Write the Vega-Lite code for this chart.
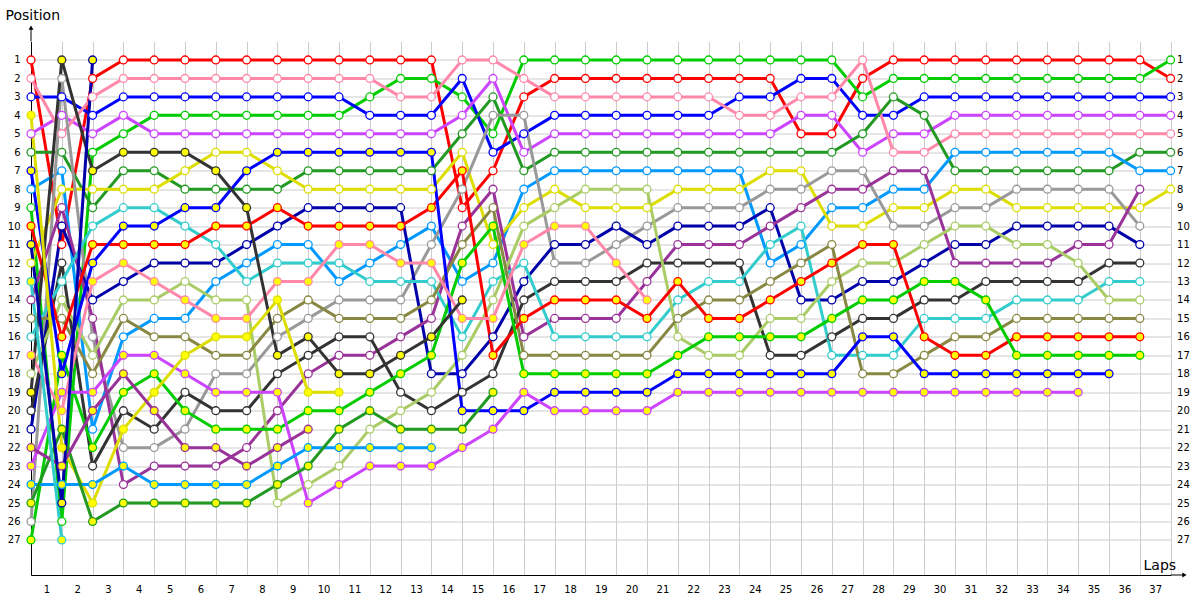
{
"$schema":"https://vega.github.io/schema/vega-lite/v6.json",
"width":1139.6,"height":533.5,
"autosize":{"type":"none"},
"padding":{"left":31,"top":41.5,"right":29.4,"bottom":25},
"background":"white",
"config":{"view":{"stroke":null},"axis":{"labelFont":"DejaVu Sans","labelFontSize":10,"labelColor":"#000","titleFont":"DejaVu Sans","titleFontSize":13,"titleFontWeight":"normal","titleColor":"#000"}},
"datasets":{"arrow":[{"k":1}]},
"data":{"values":[
{"car":"R1","lap":0,"pos":1},{"car":"R1","lap":1,"pos":11},{"car":"R1","lap":2,"pos":2},{"car":"R1","lap":3,"pos":1},{"car":"R1","lap":4,"pos":1},{"car":"R1","lap":5,"pos":1},{"car":"R1","lap":6,"pos":1},{"car":"R1","lap":7,"pos":1},{"car":"R1","lap":8,"pos":1},{"car":"R1","lap":9,"pos":1},{"car":"R1","lap":10,"pos":1},{"car":"R1","lap":11,"pos":1},{"car":"R1","lap":12,"pos":1},{"car":"R1","lap":13,"pos":1},{"car":"R1","lap":14,"pos":9},{"car":"R1","lap":15,"pos":7},{"car":"R1","lap":16,"pos":3},{"car":"R1","lap":17,"pos":2},{"car":"R1","lap":18,"pos":2},{"car":"R1","lap":19,"pos":2},{"car":"R1","lap":20,"pos":2},{"car":"R1","lap":21,"pos":2},{"car":"R1","lap":22,"pos":2},{"car":"R1","lap":23,"pos":2},{"car":"R1","lap":24,"pos":2},{"car":"R1","lap":25,"pos":5},{"car":"R1","lap":26,"pos":5},{"car":"R1","lap":27,"pos":2},{"car":"R1","lap":28,"pos":1},{"car":"R1","lap":29,"pos":1},{"car":"R1","lap":30,"pos":1},{"car":"R1","lap":31,"pos":1},{"car":"R1","lap":32,"pos":1},{"car":"R1","lap":33,"pos":1},{"car":"R1","lap":34,"pos":1},{"car":"R1","lap":35,"pos":1},{"car":"R1","lap":36,"pos":1},{"car":"R1","lap":37,"pos":2},
{"car":"G1","lap":0,"pos":9},{"car":"G1","lap":1,"pos":26},{"car":"G1","lap":2,"pos":6},{"car":"G1","lap":3,"pos":5},{"car":"G1","lap":4,"pos":4},{"car":"G1","lap":5,"pos":4},{"car":"G1","lap":6,"pos":4},{"car":"G1","lap":7,"pos":4},{"car":"G1","lap":8,"pos":4},{"car":"G1","lap":9,"pos":4},{"car":"G1","lap":10,"pos":4},{"car":"G1","lap":11,"pos":3},{"car":"G1","lap":12,"pos":2},{"car":"G1","lap":13,"pos":2},{"car":"G1","lap":14,"pos":3},{"car":"G1","lap":15,"pos":5},{"car":"G1","lap":16,"pos":1},{"car":"G1","lap":17,"pos":1},{"car":"G1","lap":18,"pos":1},{"car":"G1","lap":19,"pos":1},{"car":"G1","lap":20,"pos":1},{"car":"G1","lap":21,"pos":1},{"car":"G1","lap":22,"pos":1},{"car":"G1","lap":23,"pos":1},{"car":"G1","lap":24,"pos":1},{"car":"G1","lap":25,"pos":1},{"car":"G1","lap":26,"pos":1},{"car":"G1","lap":27,"pos":3},{"car":"G1","lap":28,"pos":2},{"car":"G1","lap":29,"pos":2},{"car":"G1","lap":30,"pos":2},{"car":"G1","lap":31,"pos":2},{"car":"G1","lap":32,"pos":2},{"car":"G1","lap":33,"pos":2},{"car":"G1","lap":34,"pos":2},{"car":"G1","lap":35,"pos":2},{"car":"G1","lap":36,"pos":2},{"car":"G1","lap":37,"pos":1},
{"car":"B1","lap":0,"pos":3},{"car":"B1","lap":1,"pos":3},{"car":"B1","lap":2,"pos":4},{"car":"B1","lap":3,"pos":3},{"car":"B1","lap":4,"pos":3},{"car":"B1","lap":5,"pos":3},{"car":"B1","lap":6,"pos":3},{"car":"B1","lap":7,"pos":3},{"car":"B1","lap":8,"pos":3},{"car":"B1","lap":9,"pos":3},{"car":"B1","lap":10,"pos":3},{"car":"B1","lap":11,"pos":4},{"car":"B1","lap":12,"pos":4},{"car":"B1","lap":13,"pos":4},{"car":"B1","lap":14,"pos":2},{"car":"B1","lap":15,"pos":6},{"car":"B1","lap":16,"pos":5},{"car":"B1","lap":17,"pos":4},{"car":"B1","lap":18,"pos":4},{"car":"B1","lap":19,"pos":4},{"car":"B1","lap":20,"pos":4},{"car":"B1","lap":21,"pos":4},{"car":"B1","lap":22,"pos":4},{"car":"B1","lap":23,"pos":3},{"car":"B1","lap":24,"pos":3},{"car":"B1","lap":25,"pos":2},{"car":"B1","lap":26,"pos":2},{"car":"B1","lap":27,"pos":4},{"car":"B1","lap":28,"pos":4},{"car":"B1","lap":29,"pos":3},{"car":"B1","lap":30,"pos":3},{"car":"B1","lap":31,"pos":3},{"car":"B1","lap":32,"pos":3},{"car":"B1","lap":33,"pos":3},{"car":"B1","lap":34,"pos":3},{"car":"B1","lap":35,"pos":3},{"car":"B1","lap":36,"pos":3},{"car":"B1","lap":37,"pos":3},
{"car":"V1","lap":0,"pos":5},{"car":"V1","lap":1,"pos":4},{"car":"V1","lap":2,"pos":5},{"car":"V1","lap":3,"pos":4},{"car":"V1","lap":4,"pos":5},{"car":"V1","lap":5,"pos":5},{"car":"V1","lap":6,"pos":5},{"car":"V1","lap":7,"pos":5},{"car":"V1","lap":8,"pos":5},{"car":"V1","lap":9,"pos":5},{"car":"V1","lap":10,"pos":5},{"car":"V1","lap":11,"pos":5},{"car":"V1","lap":12,"pos":5},{"car":"V1","lap":13,"pos":5},{"car":"V1","lap":14,"pos":4},{"car":"V1","lap":15,"pos":2},{"car":"V1","lap":16,"pos":6},{"car":"V1","lap":17,"pos":5},{"car":"V1","lap":18,"pos":5},{"car":"V1","lap":19,"pos":5},{"car":"V1","lap":20,"pos":5},{"car":"V1","lap":21,"pos":5},{"car":"V1","lap":22,"pos":5},{"car":"V1","lap":23,"pos":5},{"car":"V1","lap":24,"pos":5},{"car":"V1","lap":25,"pos":4},{"car":"V1","lap":26,"pos":4},{"car":"V1","lap":27,"pos":6},{"car":"V1","lap":28,"pos":5},{"car":"V1","lap":29,"pos":5},{"car":"V1","lap":30,"pos":4},{"car":"V1","lap":31,"pos":4},{"car":"V1","lap":32,"pos":4},{"car":"V1","lap":33,"pos":4},{"car":"V1","lap":34,"pos":4},{"car":"V1","lap":35,"pos":4},{"car":"V1","lap":36,"pos":4},{"car":"V1","lap":37,"pos":4},
{"car":"P1","lap":0,"pos":2},{"car":"P1","lap":1,"pos":5},{"car":"P1","lap":2,"pos":3},{"car":"P1","lap":3,"pos":2},{"car":"P1","lap":4,"pos":2},{"car":"P1","lap":5,"pos":2},{"car":"P1","lap":6,"pos":2},{"car":"P1","lap":7,"pos":2},{"car":"P1","lap":8,"pos":2},{"car":"P1","lap":9,"pos":2},{"car":"P1","lap":10,"pos":2},{"car":"P1","lap":11,"pos":2},{"car":"P1","lap":12,"pos":3},{"car":"P1","lap":13,"pos":3},{"car":"P1","lap":14,"pos":1},{"car":"P1","lap":15,"pos":1},{"car":"P1","lap":16,"pos":2},{"car":"P1","lap":17,"pos":3},{"car":"P1","lap":18,"pos":3},{"car":"P1","lap":19,"pos":3},{"car":"P1","lap":20,"pos":3},{"car":"P1","lap":21,"pos":3},{"car":"P1","lap":22,"pos":3},{"car":"P1","lap":23,"pos":4},{"car":"P1","lap":24,"pos":4},{"car":"P1","lap":25,"pos":3},{"car":"P1","lap":26,"pos":3},{"car":"P1","lap":27,"pos":1},{"car":"P1","lap":28,"pos":6},{"car":"P1","lap":29,"pos":6},{"car":"P1","lap":30,"pos":5},{"car":"P1","lap":31,"pos":5},{"car":"P1","lap":32,"pos":5},{"car":"P1","lap":33,"pos":5},{"car":"P1","lap":34,"pos":5},{"car":"P1","lap":35,"pos":5},{"car":"P1","lap":36,"pos":5},{"car":"P1","lap":37,"pos":5},
{"car":"DG1","lap":0,"pos":6},{"car":"DG1","lap":1,"pos":6},{"car":"DG1","lap":2,"pos":9},{"car":"DG1","lap":3,"pos":7},{"car":"DG1","lap":4,"pos":7},{"car":"DG1","lap":5,"pos":8},{"car":"DG1","lap":6,"pos":8},{"car":"DG1","lap":7,"pos":8},{"car":"DG1","lap":8,"pos":8},{"car":"DG1","lap":9,"pos":7},{"car":"DG1","lap":10,"pos":7},{"car":"DG1","lap":11,"pos":7},{"car":"DG1","lap":12,"pos":7},{"car":"DG1","lap":13,"pos":7},{"car":"DG1","lap":14,"pos":5},{"car":"DG1","lap":15,"pos":3},{"car":"DG1","lap":16,"pos":7},{"car":"DG1","lap":17,"pos":6},{"car":"DG1","lap":18,"pos":6},{"car":"DG1","lap":19,"pos":6},{"car":"DG1","lap":20,"pos":6},{"car":"DG1","lap":21,"pos":6},{"car":"DG1","lap":22,"pos":6},{"car":"DG1","lap":23,"pos":6},{"car":"DG1","lap":24,"pos":6},{"car":"DG1","lap":25,"pos":6},{"car":"DG1","lap":26,"pos":6},{"car":"DG1","lap":27,"pos":5},{"car":"DG1","lap":28,"pos":3},{"car":"DG1","lap":29,"pos":4},{"car":"DG1","lap":30,"pos":7},{"car":"DG1","lap":31,"pos":7},{"car":"DG1","lap":32,"pos":7},{"car":"DG1","lap":33,"pos":7},{"car":"DG1","lap":34,"pos":7},{"car":"DG1","lap":35,"pos":7},{"car":"DG1","lap":36,"pos":6},{"car":"DG1","lap":37,"pos":6},
{"car":"LB1","lap":0,"pos":8},{"car":"LB1","lap":1,"pos":7},{"car":"LB1","lap":2,"pos":21},{"car":"LB1","lap":3,"pos":16},{"car":"LB1","lap":4,"pos":15},{"car":"LB1","lap":5,"pos":15},{"car":"LB1","lap":6,"pos":13},{"car":"LB1","lap":7,"pos":12},{"car":"LB1","lap":8,"pos":11},{"car":"LB1","lap":9,"pos":11},{"car":"LB1","lap":10,"pos":13},{"car":"LB1","lap":11,"pos":12},{"car":"LB1","lap":12,"pos":11},{"car":"LB1","lap":13,"pos":10},{"car":"LB1","lap":14,"pos":13},{"car":"LB1","lap":15,"pos":12},{"car":"LB1","lap":16,"pos":8},{"car":"LB1","lap":17,"pos":7},{"car":"LB1","lap":18,"pos":7},{"car":"LB1","lap":19,"pos":7},{"car":"LB1","lap":20,"pos":7},{"car":"LB1","lap":21,"pos":7},{"car":"LB1","lap":22,"pos":7},{"car":"LB1","lap":23,"pos":7},{"car":"LB1","lap":24,"pos":12},{"car":"LB1","lap":25,"pos":11},{"car":"LB1","lap":26,"pos":9},{"car":"LB1","lap":27,"pos":9},{"car":"LB1","lap":28,"pos":8},{"car":"LB1","lap":29,"pos":8},{"car":"LB1","lap":30,"pos":6},{"car":"LB1","lap":31,"pos":6},{"car":"LB1","lap":32,"pos":6},{"car":"LB1","lap":33,"pos":6},{"car":"LB1","lap":34,"pos":6},{"car":"LB1","lap":35,"pos":6},{"car":"LB1","lap":36,"pos":7},{"car":"LB1","lap":37,"pos":7},
{"car":"Y1","lap":0,"pos":12},{"car":"Y1","lap":1,"pos":8},{"car":"Y1","lap":2,"pos":8},{"car":"Y1","lap":3,"pos":8},{"car":"Y1","lap":4,"pos":8},{"car":"Y1","lap":5,"pos":7},{"car":"Y1","lap":6,"pos":6},{"car":"Y1","lap":7,"pos":6},{"car":"Y1","lap":8,"pos":7},{"car":"Y1","lap":9,"pos":8},{"car":"Y1","lap":10,"pos":8},{"car":"Y1","lap":11,"pos":8},{"car":"Y1","lap":12,"pos":8},{"car":"Y1","lap":13,"pos":8},{"car":"Y1","lap":14,"pos":6},{"car":"Y1","lap":15,"pos":11},{"car":"Y1","lap":16,"pos":9},{"car":"Y1","lap":17,"pos":8},{"car":"Y1","lap":18,"pos":9},{"car":"Y1","lap":19,"pos":9},{"car":"Y1","lap":20,"pos":9},{"car":"Y1","lap":21,"pos":8},{"car":"Y1","lap":22,"pos":8},{"car":"Y1","lap":23,"pos":8},{"car":"Y1","lap":24,"pos":7},{"car":"Y1","lap":25,"pos":7},{"car":"Y1","lap":26,"pos":10},{"car":"Y1","lap":27,"pos":10},{"car":"Y1","lap":28,"pos":9},{"car":"Y1","lap":29,"pos":9},{"car":"Y1","lap":30,"pos":8},{"car":"Y1","lap":31,"pos":8},{"car":"Y1","lap":32,"pos":9},{"car":"Y1","lap":33,"pos":9},{"car":"Y1","lap":34,"pos":9},{"car":"Y1","lap":35,"pos":9},{"car":"Y1","lap":36,"pos":9},{"car":"Y1","lap":37,"pos":8},
{"car":"GR1","lap":0,"pos":26},{"car":"GR1","lap":1,"pos":2},{"car":"GR1","lap":2,"pos":16},{"car":"GR1","lap":3,"pos":22},{"car":"GR1","lap":4,"pos":22},{"car":"GR1","lap":5,"pos":21},{"car":"GR1","lap":6,"pos":18},{"car":"GR1","lap":7,"pos":18},{"car":"GR1","lap":8,"pos":16},{"car":"GR1","lap":9,"pos":15},{"car":"GR1","lap":10,"pos":14},{"car":"GR1","lap":11,"pos":14},{"car":"GR1","lap":12,"pos":14},{"car":"GR1","lap":13,"pos":11},{"car":"GR1","lap":14,"pos":8},{"car":"GR1","lap":15,"pos":4},{"car":"GR1","lap":16,"pos":4},{"car":"GR1","lap":17,"pos":12},{"car":"GR1","lap":18,"pos":12},{"car":"GR1","lap":19,"pos":11},{"car":"GR1","lap":20,"pos":10},{"car":"GR1","lap":21,"pos":9},{"car":"GR1","lap":22,"pos":9},{"car":"GR1","lap":23,"pos":9},{"car":"GR1","lap":24,"pos":8},{"car":"GR1","lap":25,"pos":8},{"car":"GR1","lap":26,"pos":7},{"car":"GR1","lap":27,"pos":7},{"car":"GR1","lap":28,"pos":10},{"car":"GR1","lap":29,"pos":10},{"car":"GR1","lap":30,"pos":9},{"car":"GR1","lap":31,"pos":9},{"car":"GR1","lap":32,"pos":8},{"car":"GR1","lap":33,"pos":8},{"car":"GR1","lap":34,"pos":8},{"car":"GR1","lap":35,"pos":8},{"car":"GR1","lap":36,"pos":10},
{"car":"N1","lap":0,"pos":21},{"car":"N1","lap":1,"pos":10},{"car":"N1","lap":2,"pos":14},{"car":"N1","lap":3,"pos":13},{"car":"N1","lap":4,"pos":12},{"car":"N1","lap":5,"pos":12},{"car":"N1","lap":6,"pos":12},{"car":"N1","lap":7,"pos":11},{"car":"N1","lap":8,"pos":10},{"car":"N1","lap":9,"pos":9},{"car":"N1","lap":10,"pos":9},{"car":"N1","lap":11,"pos":9},{"car":"N1","lap":12,"pos":9},{"car":"N1","lap":13,"pos":18},{"car":"N1","lap":14,"pos":18},{"car":"N1","lap":15,"pos":16},{"car":"N1","lap":16,"pos":13},{"car":"N1","lap":17,"pos":11},{"car":"N1","lap":18,"pos":11},{"car":"N1","lap":19,"pos":10},{"car":"N1","lap":20,"pos":11},{"car":"N1","lap":21,"pos":10},{"car":"N1","lap":22,"pos":10},{"car":"N1","lap":23,"pos":10},{"car":"N1","lap":24,"pos":9},{"car":"N1","lap":25,"pos":14},{"car":"N1","lap":26,"pos":14},{"car":"N1","lap":27,"pos":13},{"car":"N1","lap":28,"pos":13},{"car":"N1","lap":29,"pos":12},{"car":"N1","lap":30,"pos":11},{"car":"N1","lap":31,"pos":11},{"car":"N1","lap":32,"pos":10},{"car":"N1","lap":33,"pos":10},{"car":"N1","lap":34,"pos":10},{"car":"N1","lap":35,"pos":10},{"car":"N1","lap":36,"pos":11},
{"car":"PU1","lap":0,"pos":14},{"car":"PU1","lap":1,"pos":9},{"car":"PU1","lap":2,"pos":15},{"car":"PU1","lap":3,"pos":24},{"car":"PU1","lap":4,"pos":23},{"car":"PU1","lap":5,"pos":23},{"car":"PU1","lap":6,"pos":23},{"car":"PU1","lap":7,"pos":22},{"car":"PU1","lap":8,"pos":20},{"car":"PU1","lap":9,"pos":18},{"car":"PU1","lap":10,"pos":17},{"car":"PU1","lap":11,"pos":17},{"car":"PU1","lap":12,"pos":16},{"car":"PU1","lap":13,"pos":15},{"car":"PU1","lap":14,"pos":10},{"car":"PU1","lap":15,"pos":8},{"car":"PU1","lap":16,"pos":16},{"car":"PU1","lap":17,"pos":15},{"car":"PU1","lap":18,"pos":15},{"car":"PU1","lap":19,"pos":15},{"car":"PU1","lap":20,"pos":13},{"car":"PU1","lap":21,"pos":11},{"car":"PU1","lap":22,"pos":11},{"car":"PU1","lap":23,"pos":11},{"car":"PU1","lap":24,"pos":10},{"car":"PU1","lap":25,"pos":9},{"car":"PU1","lap":26,"pos":8},{"car":"PU1","lap":27,"pos":8},{"car":"PU1","lap":28,"pos":7},{"car":"PU1","lap":29,"pos":7},{"car":"PU1","lap":30,"pos":12},{"car":"PU1","lap":31,"pos":12},{"car":"PU1","lap":32,"pos":12},{"car":"PU1","lap":33,"pos":12},{"car":"PU1","lap":34,"pos":11},{"car":"PU1","lap":35,"pos":11},{"car":"PU1","lap":36,"pos":8},
{"car":"K1","lap":0,"pos":20},{"car":"K1","lap":1,"pos":12},{"car":"K1","lap":2,"pos":23},{"car":"K1","lap":3,"pos":20},{"car":"K1","lap":4,"pos":21},{"car":"K1","lap":5,"pos":19},{"car":"K1","lap":6,"pos":20},{"car":"K1","lap":7,"pos":20},{"car":"K1","lap":8,"pos":18},{"car":"K1","lap":9,"pos":17},{"car":"K1","lap":10,"pos":16},{"car":"K1","lap":11,"pos":16},{"car":"K1","lap":12,"pos":19},{"car":"K1","lap":13,"pos":20},{"car":"K1","lap":14,"pos":19},{"car":"K1","lap":15,"pos":18},{"car":"K1","lap":16,"pos":14},{"car":"K1","lap":17,"pos":13},{"car":"K1","lap":18,"pos":13},{"car":"K1","lap":19,"pos":13},{"car":"K1","lap":20,"pos":12},{"car":"K1","lap":21,"pos":12},{"car":"K1","lap":22,"pos":12},{"car":"K1","lap":23,"pos":12},{"car":"K1","lap":24,"pos":17},{"car":"K1","lap":25,"pos":17},{"car":"K1","lap":26,"pos":16},{"car":"K1","lap":27,"pos":15},{"car":"K1","lap":28,"pos":15},{"car":"K1","lap":29,"pos":14},{"car":"K1","lap":30,"pos":14},{"car":"K1","lap":31,"pos":13},{"car":"K1","lap":32,"pos":13},{"car":"K1","lap":33,"pos":13},{"car":"K1","lap":34,"pos":13},{"car":"K1","lap":35,"pos":12},{"car":"K1","lap":36,"pos":12},
{"car":"C1","lap":0,"pos":16},{"car":"C1","lap":1,"pos":13},{"car":"C1","lap":2,"pos":10},{"car":"C1","lap":3,"pos":9},{"car":"C1","lap":4,"pos":9},{"car":"C1","lap":5,"pos":10},{"car":"C1","lap":6,"pos":11},{"car":"C1","lap":7,"pos":13},{"car":"C1","lap":8,"pos":12},{"car":"C1","lap":9,"pos":12},{"car":"C1","lap":10,"pos":12},{"car":"C1","lap":11,"pos":13},{"car":"C1","lap":12,"pos":13},{"car":"C1","lap":13,"pos":13},{"car":"C1","lap":14,"pos":16},{"car":"C1","lap":15,"pos":13},{"car":"C1","lap":16,"pos":12},{"car":"C1","lap":17,"pos":16},{"car":"C1","lap":18,"pos":16},{"car":"C1","lap":19,"pos":16},{"car":"C1","lap":20,"pos":16},{"car":"C1","lap":21,"pos":14},{"car":"C1","lap":22,"pos":13},{"car":"C1","lap":23,"pos":13},{"car":"C1","lap":24,"pos":11},{"car":"C1","lap":25,"pos":10},{"car":"C1","lap":26,"pos":17},{"car":"C1","lap":27,"pos":17},{"car":"C1","lap":28,"pos":17},{"car":"C1","lap":29,"pos":15},{"car":"C1","lap":30,"pos":15},{"car":"C1","lap":31,"pos":15},{"car":"C1","lap":32,"pos":14},{"car":"C1","lap":33,"pos":14},{"car":"C1","lap":34,"pos":14},{"car":"C1","lap":35,"pos":13},{"car":"C1","lap":36,"pos":13},
{"car":"LO1","lap":0,"pos":18},{"car":"LO1","lap":1,"pos":14},{"car":"LO1","lap":2,"pos":17},{"car":"LO1","lap":3,"pos":14},{"car":"LO1","lap":4,"pos":14},{"car":"LO1","lap":5,"pos":13},{"car":"LO1","lap":6,"pos":14},{"car":"LO1","lap":7,"pos":14},{"car":"LO1","lap":8,"pos":25},{"car":"LO1","lap":9,"pos":24},{"car":"LO1","lap":10,"pos":23},{"car":"LO1","lap":11,"pos":21},{"car":"LO1","lap":12,"pos":20},{"car":"LO1","lap":13,"pos":19},{"car":"LO1","lap":14,"pos":17},{"car":"LO1","lap":15,"pos":14},{"car":"LO1","lap":16,"pos":10},{"car":"LO1","lap":17,"pos":9},{"car":"LO1","lap":18,"pos":8},{"car":"LO1","lap":19,"pos":8},{"car":"LO1","lap":20,"pos":8},{"car":"LO1","lap":21,"pos":16},{"car":"LO1","lap":22,"pos":17},{"car":"LO1","lap":23,"pos":17},{"car":"LO1","lap":24,"pos":15},{"car":"LO1","lap":25,"pos":15},{"car":"LO1","lap":26,"pos":13},{"car":"LO1","lap":27,"pos":12},{"car":"LO1","lap":28,"pos":12},{"car":"LO1","lap":29,"pos":11},{"car":"LO1","lap":30,"pos":10},{"car":"LO1","lap":31,"pos":10},{"car":"LO1","lap":32,"pos":11},{"car":"LO1","lap":33,"pos":11},{"car":"LO1","lap":34,"pos":12},{"car":"LO1","lap":35,"pos":14},{"car":"LO1","lap":36,"pos":14},
{"car":"O1","lap":0,"pos":15},{"car":"O1","lap":1,"pos":15},{"car":"O1","lap":2,"pos":18},{"car":"O1","lap":3,"pos":15},{"car":"O1","lap":4,"pos":16},{"car":"O1","lap":5,"pos":16},{"car":"O1","lap":6,"pos":17},{"car":"O1","lap":7,"pos":17},{"car":"O1","lap":8,"pos":15},{"car":"O1","lap":9,"pos":14},{"car":"O1","lap":10,"pos":15},{"car":"O1","lap":11,"pos":15},{"car":"O1","lap":12,"pos":15},{"car":"O1","lap":13,"pos":14},{"car":"O1","lap":14,"pos":11},{"car":"O1","lap":15,"pos":9},{"car":"O1","lap":16,"pos":17},{"car":"O1","lap":17,"pos":17},{"car":"O1","lap":18,"pos":17},{"car":"O1","lap":19,"pos":17},{"car":"O1","lap":20,"pos":17},{"car":"O1","lap":21,"pos":15},{"car":"O1","lap":22,"pos":14},{"car":"O1","lap":23,"pos":14},{"car":"O1","lap":24,"pos":13},{"car":"O1","lap":25,"pos":12},{"car":"O1","lap":26,"pos":11},{"car":"O1","lap":27,"pos":18},{"car":"O1","lap":28,"pos":18},{"car":"O1","lap":29,"pos":17},{"car":"O1","lap":30,"pos":16},{"car":"O1","lap":31,"pos":16},{"car":"O1","lap":32,"pos":15},{"car":"O1","lap":33,"pos":15},{"car":"O1","lap":34,"pos":15},{"car":"O1","lap":35,"pos":15},{"car":"O1","lap":36,"pos":15},
{"car":"R2","lap":0,"pos":10},{"car":"R2","lap":1,"pos":16},{"car":"R2","lap":2,"pos":11},{"car":"R2","lap":3,"pos":11},{"car":"R2","lap":4,"pos":11},{"car":"R2","lap":5,"pos":11},{"car":"R2","lap":6,"pos":10},{"car":"R2","lap":7,"pos":10},{"car":"R2","lap":8,"pos":9},{"car":"R2","lap":9,"pos":10},{"car":"R2","lap":10,"pos":10},{"car":"R2","lap":11,"pos":10},{"car":"R2","lap":12,"pos":10},{"car":"R2","lap":13,"pos":9},{"car":"R2","lap":14,"pos":7},{"car":"R2","lap":15,"pos":17},{"car":"R2","lap":16,"pos":15},{"car":"R2","lap":17,"pos":14},{"car":"R2","lap":18,"pos":14},{"car":"R2","lap":19,"pos":14},{"car":"R2","lap":20,"pos":15},{"car":"R2","lap":21,"pos":13},{"car":"R2","lap":22,"pos":15},{"car":"R2","lap":23,"pos":15},{"car":"R2","lap":24,"pos":14},{"car":"R2","lap":25,"pos":13},{"car":"R2","lap":26,"pos":12},{"car":"R2","lap":27,"pos":11},{"car":"R2","lap":28,"pos":11},{"car":"R2","lap":29,"pos":16},{"car":"R2","lap":30,"pos":17},{"car":"R2","lap":31,"pos":17},{"car":"R2","lap":32,"pos":16},{"car":"R2","lap":33,"pos":16},{"car":"R2","lap":34,"pos":16},{"car":"R2","lap":35,"pos":16},{"car":"R2","lap":36,"pos":16},
{"car":"G2","lap":0,"pos":27},{"car":"G2","lap":1,"pos":17},{"car":"G2","lap":2,"pos":22},{"car":"G2","lap":3,"pos":19},{"car":"G2","lap":4,"pos":18},{"car":"G2","lap":5,"pos":20},{"car":"G2","lap":6,"pos":21},{"car":"G2","lap":7,"pos":21},{"car":"G2","lap":8,"pos":21},{"car":"G2","lap":9,"pos":20},{"car":"G2","lap":10,"pos":20},{"car":"G2","lap":11,"pos":19},{"car":"G2","lap":12,"pos":18},{"car":"G2","lap":13,"pos":17},{"car":"G2","lap":14,"pos":12},{"car":"G2","lap":15,"pos":10},{"car":"G2","lap":16,"pos":18},{"car":"G2","lap":17,"pos":18},{"car":"G2","lap":18,"pos":18},{"car":"G2","lap":19,"pos":18},{"car":"G2","lap":20,"pos":18},{"car":"G2","lap":21,"pos":17},{"car":"G2","lap":22,"pos":16},{"car":"G2","lap":23,"pos":16},{"car":"G2","lap":24,"pos":16},{"car":"G2","lap":25,"pos":16},{"car":"G2","lap":26,"pos":15},{"car":"G2","lap":27,"pos":14},{"car":"G2","lap":28,"pos":14},{"car":"G2","lap":29,"pos":13},{"car":"G2","lap":30,"pos":13},{"car":"G2","lap":31,"pos":14},{"car":"G2","lap":32,"pos":17},{"car":"G2","lap":33,"pos":17},{"car":"G2","lap":34,"pos":17},{"car":"G2","lap":35,"pos":17},{"car":"G2","lap":36,"pos":17},
{"car":"B2","lap":0,"pos":7},{"car":"B2","lap":1,"pos":18},{"car":"B2","lap":2,"pos":12},{"car":"B2","lap":3,"pos":10},{"car":"B2","lap":4,"pos":10},{"car":"B2","lap":5,"pos":9},{"car":"B2","lap":6,"pos":9},{"car":"B2","lap":7,"pos":7},{"car":"B2","lap":8,"pos":6},{"car":"B2","lap":9,"pos":6},{"car":"B2","lap":10,"pos":6},{"car":"B2","lap":11,"pos":6},{"car":"B2","lap":12,"pos":6},{"car":"B2","lap":13,"pos":6},{"car":"B2","lap":14,"pos":20},{"car":"B2","lap":15,"pos":20},{"car":"B2","lap":16,"pos":20},{"car":"B2","lap":17,"pos":19},{"car":"B2","lap":18,"pos":19},{"car":"B2","lap":19,"pos":19},{"car":"B2","lap":20,"pos":19},{"car":"B2","lap":21,"pos":18},{"car":"B2","lap":22,"pos":18},{"car":"B2","lap":23,"pos":18},{"car":"B2","lap":24,"pos":18},{"car":"B2","lap":25,"pos":18},{"car":"B2","lap":26,"pos":18},{"car":"B2","lap":27,"pos":16},{"car":"B2","lap":28,"pos":16},{"car":"B2","lap":29,"pos":18},{"car":"B2","lap":30,"pos":18},{"car":"B2","lap":31,"pos":18},{"car":"B2","lap":32,"pos":18},{"car":"B2","lap":33,"pos":18},{"car":"B2","lap":34,"pos":18},{"car":"B2","lap":35,"pos":18},
{"car":"V2","lap":0,"pos":23},{"car":"V2","lap":1,"pos":19},{"car":"V2","lap":2,"pos":19},{"car":"V2","lap":3,"pos":17},{"car":"V2","lap":4,"pos":17},{"car":"V2","lap":5,"pos":18},{"car":"V2","lap":6,"pos":19},{"car":"V2","lap":7,"pos":19},{"car":"V2","lap":8,"pos":19},{"car":"V2","lap":9,"pos":25},{"car":"V2","lap":10,"pos":24},{"car":"V2","lap":11,"pos":23},{"car":"V2","lap":12,"pos":23},{"car":"V2","lap":13,"pos":23},{"car":"V2","lap":14,"pos":22},{"car":"V2","lap":15,"pos":21},{"car":"V2","lap":16,"pos":19},{"car":"V2","lap":17,"pos":20},{"car":"V2","lap":18,"pos":20},{"car":"V2","lap":19,"pos":20},{"car":"V2","lap":20,"pos":20},{"car":"V2","lap":21,"pos":19},{"car":"V2","lap":22,"pos":19},{"car":"V2","lap":23,"pos":19},{"car":"V2","lap":24,"pos":19},{"car":"V2","lap":25,"pos":19},{"car":"V2","lap":26,"pos":19},{"car":"V2","lap":27,"pos":19},{"car":"V2","lap":28,"pos":19},{"car":"V2","lap":29,"pos":19},{"car":"V2","lap":30,"pos":19},{"car":"V2","lap":31,"pos":19},{"car":"V2","lap":32,"pos":19},{"car":"V2","lap":33,"pos":19},{"car":"V2","lap":34,"pos":19},
{"car":"P2","lap":0,"pos":17},{"car":"P2","lap":1,"pos":20},{"car":"P2","lap":2,"pos":13},{"car":"P2","lap":3,"pos":12},{"car":"P2","lap":4,"pos":13},{"car":"P2","lap":5,"pos":14},{"car":"P2","lap":6,"pos":15},{"car":"P2","lap":7,"pos":15},{"car":"P2","lap":8,"pos":13},{"car":"P2","lap":9,"pos":13},{"car":"P2","lap":10,"pos":11},{"car":"P2","lap":11,"pos":11},{"car":"P2","lap":12,"pos":12},{"car":"P2","lap":13,"pos":12},{"car":"P2","lap":14,"pos":15},{"car":"P2","lap":15,"pos":15},{"car":"P2","lap":16,"pos":11},{"car":"P2","lap":17,"pos":10},{"car":"P2","lap":18,"pos":10},{"car":"P2","lap":19,"pos":12},{"car":"P2","lap":20,"pos":14},
{"car":"K2","lap":0,"pos":19},{"car":"K2","lap":1,"pos":1},{"car":"K2","lap":2,"pos":7},{"car":"K2","lap":3,"pos":6},{"car":"K2","lap":4,"pos":6},{"car":"K2","lap":5,"pos":6},{"car":"K2","lap":6,"pos":7},{"car":"K2","lap":7,"pos":9},{"car":"K2","lap":8,"pos":17},{"car":"K2","lap":9,"pos":16},{"car":"K2","lap":10,"pos":18},{"car":"K2","lap":11,"pos":18},{"car":"K2","lap":12,"pos":17},{"car":"K2","lap":13,"pos":16},{"car":"K2","lap":14,"pos":14},
{"car":"Y2","lap":0,"pos":4},{"car":"Y2","lap":1,"pos":22},{"car":"Y2","lap":2,"pos":25},{"car":"Y2","lap":3,"pos":21},{"car":"Y2","lap":4,"pos":19},{"car":"Y2","lap":5,"pos":17},{"car":"Y2","lap":6,"pos":16},{"car":"Y2","lap":7,"pos":16},{"car":"Y2","lap":8,"pos":14},{"car":"Y2","lap":9,"pos":19},{"car":"Y2","lap":10,"pos":19},
{"car":"LB2","lap":0,"pos":24},{"car":"LB2","lap":1,"pos":24},{"car":"LB2","lap":2,"pos":24},{"car":"LB2","lap":3,"pos":23},{"car":"LB2","lap":4,"pos":24},{"car":"LB2","lap":5,"pos":24},{"car":"LB2","lap":6,"pos":24},{"car":"LB2","lap":7,"pos":24},{"car":"LB2","lap":8,"pos":23},{"car":"LB2","lap":9,"pos":22},{"car":"LB2","lap":10,"pos":22},{"car":"LB2","lap":11,"pos":22},{"car":"LB2","lap":12,"pos":22},{"car":"LB2","lap":13,"pos":22},
{"car":"DG2","lap":0,"pos":25},{"car":"DG2","lap":1,"pos":21},{"car":"DG2","lap":2,"pos":26},{"car":"DG2","lap":3,"pos":25},{"car":"DG2","lap":4,"pos":25},{"car":"DG2","lap":5,"pos":25},{"car":"DG2","lap":6,"pos":25},{"car":"DG2","lap":7,"pos":25},{"car":"DG2","lap":8,"pos":24},{"car":"DG2","lap":9,"pos":23},{"car":"DG2","lap":10,"pos":21},{"car":"DG2","lap":11,"pos":20},{"car":"DG2","lap":12,"pos":21},{"car":"DG2","lap":13,"pos":21},{"car":"DG2","lap":14,"pos":21},{"car":"DG2","lap":15,"pos":19},
{"car":"PU2","lap":0,"pos":22},{"car":"PU2","lap":1,"pos":23},{"car":"PU2","lap":2,"pos":20},{"car":"PU2","lap":3,"pos":18},{"car":"PU2","lap":4,"pos":20},{"car":"PU2","lap":5,"pos":22},{"car":"PU2","lap":6,"pos":22},{"car":"PU2","lap":7,"pos":23},{"car":"PU2","lap":8,"pos":22},{"car":"PU2","lap":9,"pos":21},
{"car":"N2","lap":0,"pos":11},{"car":"N2","lap":1,"pos":25},{"car":"N2","lap":2,"pos":1},
{"car":"C2","lap":0,"pos":13},{"car":"C2","lap":1,"pos":27}
]},
"layer":[
 {"mark":{"type":"line","strokeWidth":3,"clip":false},
  "encoding":{
   "x":{"field":"lap","type":"quantitative","scale":{"domain":[0,37],"nice":false,"zero":false},"axis":{"values":[0.5,1.5,2.5,3.5,4.5,5.5,6.5,7.5,8.5,9.5,10.5,11.5,12.5,13.5,14.5,15.5,16.5,17.5,18.5,19.5,20.5,21.5,22.5,23.5,24.5,25.5,26.5,27.5,28.5,29.5,30.5,31.5,32.5,33.5,34.5,35.5,36.5],"labelExpr":"datum.value+0.5","grid":false,"ticks":false,"labelPadding":9,"domainColor":"#000","domainWidth":1,"title":"Laps","titleAngle":0,"titleAlign":"left","titleBaseline":"alphabetic","titleX":1112,"titleY":-6,"titleFontSize":14}},
   "y":{"field":"pos","type":"quantitative","scale":{"domain":[0,28.9],"reverse":true,"nice":false,"zero":false},"axis":{"values":[1,2,3,4,5,6,7,8,9,10,11,12,13,14,15,16,17,18,19,20,21,22,23,24,25,26,27],"grid":true,"gridColor":"#cccccc","gridWidth":1,"ticks":false,"labelPadding":11,"domainColor":"#000","domainWidth":1,"title":"Position","titleAngle":0,"titleAlign":"left","titleBaseline":"alphabetic","titleX":-26,"titleY":-22,"titleFontSize":14}},
   "stroke":{"field":"car","type":"nominal","legend":null,"scale":{"domain":["R1","G1","B1","V1","P1","DG1","LB1","Y1","GR1","N1","PU1","K1","C1","LO1","O1","R2","G2","B2","V2","P2","K2","Y2","LB2","DG2","PU2","N2","C2"],"range":["#ff0000","#00cc00","#0000ff","#cc44ff","#ff88aa","#229922","#0099ff","#dddd00","#999999","#0000aa","#993399","#333333","#33cccc","#aacc66","#888844","#ff0000","#00cc00","#0000ff","#cc44ff","#ff88aa","#333333","#dddd00","#0099ff","#229922","#993399","#0000aa","#33cccc"]}},
   "detail":{"field":"car","type":"nominal"}
  }},
 {"mark":{"type":"point","shape":"circle","size":62,"filled":true,"strokeWidth":1.3,"opacity":1,"fillOpacity":1,"strokeOpacity":1,"clip":false},
  "encoding":{
   "x":{"field":"lap","type":"quantitative","axis":{"orient":"top","values":[0,1,2,3,4,5,6,7,8,9,10,11,12,13,14,15,16,17,18,19,20,21,22,23,24,25,26,27,28,29,30,31,32,33,34,35,36,37],"grid":true,"gridColor":"#cccccc","labels":false,"ticks":false,"domain":false,"title":null}},
   "y":{"field":"pos","type":"quantitative","axis":{"orient":"right","values":[1,2,3,4,5,6,7,8,9,10,11,12,13,14,15,16,17,18,19,20,21,22,23,24,25,26,27],"grid":false,"ticks":false,"domain":false,"labelPadding":6,"labelAlign":"left","title":null}},
   "stroke":{"field":"car","type":"nominal","legend":null},
   "fill":{"field":"car","type":"nominal","legend":null,"scale":{"domain":["R1","G1","B1","V1","P1","DG1","LB1","Y1","GR1","N1","PU1","K1","C1","LO1","O1","R2","G2","B2","V2","P2","K2","Y2","LB2","DG2","PU2","N2","C2"],"range":["#ffffff","#ffffff","#ffffff","#ffffff","#ffffff","#ffffff","#ffffff","#ffffff","#ffffff","#ffffff","#ffffff","#ffffff","#ffffff","#ffffff","#ffffff","#ffff00","#ffff00","#ffff00","#ffff00","#ffff00","#ffff00","#ffff00","#ffff00","#ffff00","#ffff00","#ffff00","#ffff00"]}}
  }},
 {"data":{"name":"arrow"},"mark":{"type":"rule","color":"#000000","strokeWidth":1,"clip":false},
  "encoding":{"x":{"datum":0,"axis":null},"y":{"datum":0,"axis":null},"y2":{"datum":-0.75}}},
 {"data":{"name":"arrow"},"mark":{"type":"point","shape":"triangle-up","filled":true,"color":"#000000","size":24,"opacity":1,"clip":false},
  "encoding":{"x":{"datum":0,"axis":null},"y":{"datum":-0.75,"axis":null}}},
 {"data":{"name":"arrow"},"mark":{"type":"rule","color":"#000000","strokeWidth":1,"clip":false},
  "encoding":{"x":{"datum":37,"axis":null},"x2":{"datum":37.45},"y":{"datum":28.9,"axis":null}}},
 {"data":{"name":"arrow"},"mark":{"type":"point","shape":"triangle-right","filled":true,"color":"#000000","size":24,"opacity":1,"clip":false},
  "encoding":{"x":{"datum":37.45,"axis":null},"y":{"datum":28.9,"axis":null}}}
],
"resolve":{"axis":{"x":"independent","y":"independent"}}
}
